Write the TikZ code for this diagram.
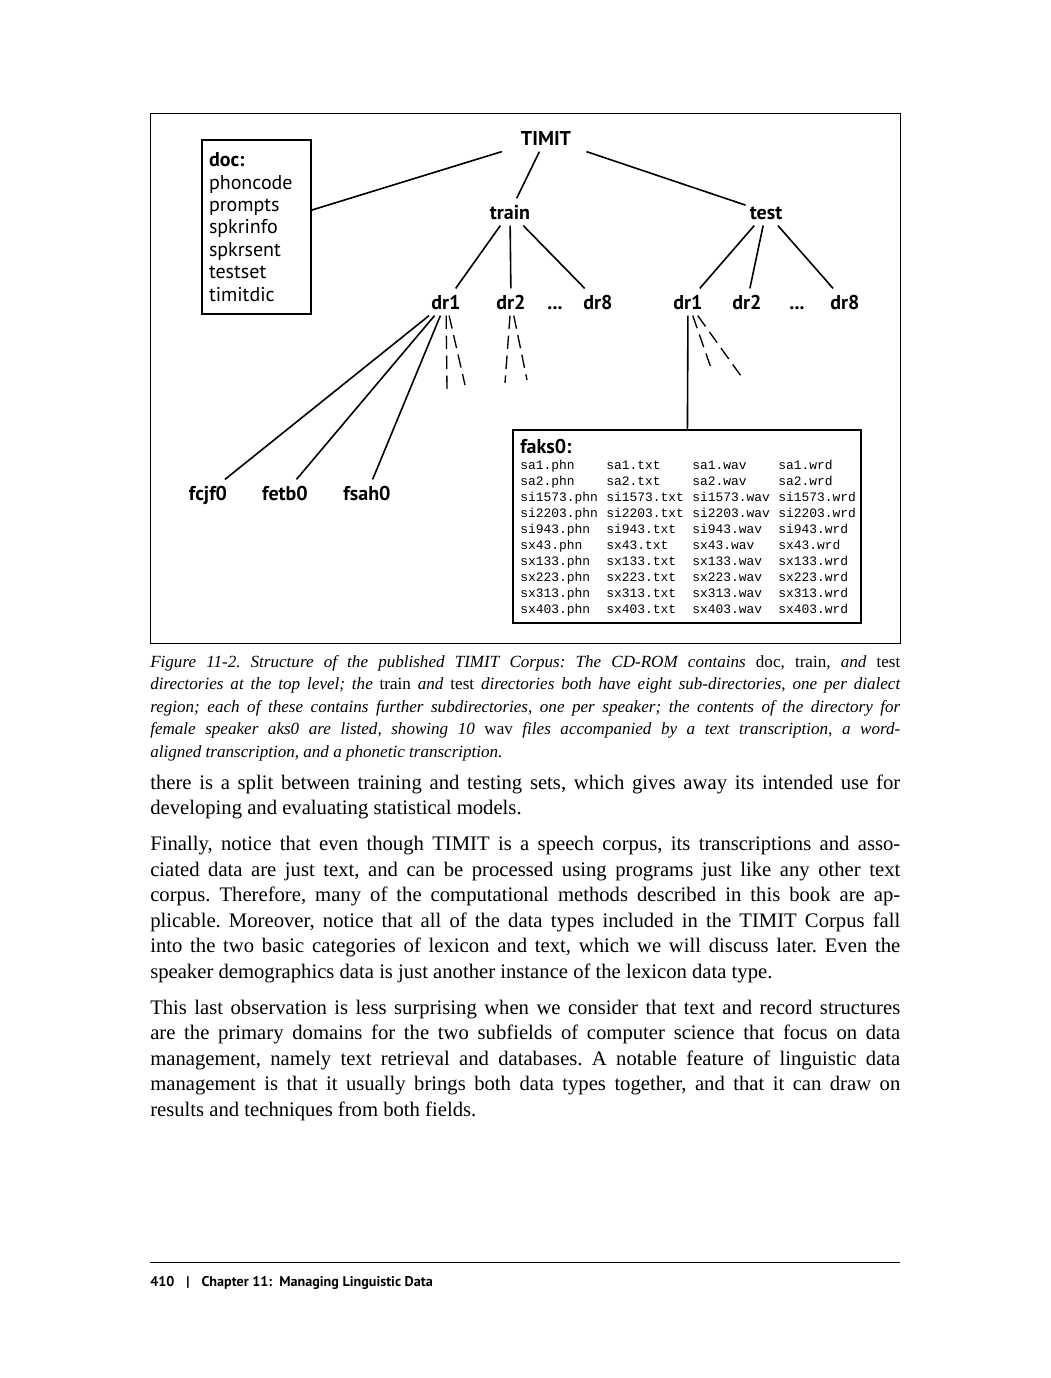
\documentclass[tikz,border=0pt]{standalone}
\usepackage{fontspec}
\setmainfont{Liberation Serif}
\setsansfont{PT Sans}
\setmonofont{Liberation Mono}
\frenchspacing

% one line of the text block, stretched to the full measure
\newcommand\fullline[1]{\hbox to 562.5pt{#1}}

\tikzset{
  dirnode/.style={font=\sffamily\bfseries\fontsize{15}{18}\selectfont,
    text height=11pt, text depth=0pt, minimum height=20pt, inner xsep=3pt},
  dirbox/.style={draw, line width=1.2pt},
  branch/.style={line width=1.2pt},
  subbranch/.style={line width=1pt, dash pattern=on 10pt off 5pt},
  filename/.style={font=\ttfamily\fontsize{9.7}{12}\selectfont, anchor=base west, inner sep=0pt},
  capline/.style={font=\itshape\fontsize{12.8}{15}\selectfont, anchor=base west, inner sep=0pt},
  bodyline/.style={font=\fontsize{15.5}{18}\selectfont, anchor=base west, inner sep=0pt},
}

\begin{document}
\begin{tikzpicture}[x=0.75pt, y=-0.75pt]
  \useasboundingbox (0,0) rectangle (1050,1378);
  \draw[line width=0.75pt] (150,113) rectangle (900,643);

  % directory tree
  \node[dirnode, minimum width=67.5pt] (timit) at (546,138) {TIMIT};
  \node[dirbox, font=\sffamily\fontsize{15}{16.8}\selectfont, align=left,
    text width=71.25pt, inner xsep=5.25pt, minimum height=130.5pt] (doc) at (256.5,227)
    {\textbf{doc:}\\phoncode\\prompts\\spkrinfo\\spkrsent\\testset\\timitdic};
  \node[dirnode] (train) at (510,212) {train};
  \node[dirnode] (test) at (766,212) {test};

  \node[dirnode] (trdr1) at (446,302) {dr1};
  \node[dirnode] (trdr2) at (511,302) {dr2};
  \node[dirnode] (trdots) at (555,302) {...};
  \node[dirnode] (trdr8) at (598,302) {dr8};
  \node[dirnode] (tedr1) at (688,302) {dr1};
  \node[dirnode] (tedr2) at (747,302) {dr2};
  \node[dirnode] (tedots) at (797,302) {...};
  \node[dirnode] (tedr8) at (845,302) {dr8};

  \node[dirnode] (fcjf) at (208,493) {fcjf0};
  \node[dirnode] (fetb) at (285,493) {fetb0};
  \node[dirnode] (fsah) at (367,493) {fsah0};

  \node[dirbox, minimum width=261pt, minimum height=144.75pt, inner sep=0pt] (faks) at (687,526.5) {};
  \node[font=\sffamily\bfseries\fontsize{15}{18}\selectfont, anchor=base west, inner sep=0pt]
    (fakstitle) at (520,453) {faks0:};
  \foreach \stem [count=\r from 0] in {sa1,sa2,si1573,si2203,si943,sx43,sx133,sx223,sx313,sx403}
    \foreach \ext [count=\c from 0] in {phn,txt,wav,wrd}
      \node[filename] (f-\stem-\ext) at ({520+86*\c},{469+16.1*\r}) {\stem.\ext};

  \draw[branch] (timit) -- (doc);
  \draw[branch] (timit) -- (train);
  \draw[branch] (timit) -- (test);
  \foreach \d in {trdr1,trdr2,trdr8}
    \draw[branch] (train) -- (\d);
  \foreach \d in {tedr1,tedr2,tedr8}
    \draw[branch] (test) -- (\d);
  \foreach \s in {fcjf,fetb,fsah}
    \draw[branch] (trdr1) -- (\s);
  \draw[branch] (tedr1) -- (faks);

  % further speakers, not shown
  \coordinate (trdr1a) at (447,390);
  \coordinate (trdr1b) at (465,385);
  \coordinate (trdr2a) at (505,383);
  \coordinate (trdr2b) at (527,380);
  \coordinate (tedr1a) at (711,368);
  \coordinate (tedr1b) at (741,376);
  \foreach \e in {trdr1a,trdr1b}
    \draw[subbranch] (trdr1) -- (\e);
  \foreach \e in {trdr2a,trdr2b}
    \draw[subbranch] (trdr2) -- (\e);
  \foreach \e in {tedr1a,tedr1b}
    \draw[subbranch] (tedr1) -- (\e);

  % caption
  \node[capline] (cap1) at (150,667) {\fullline{Figure 11-2. Structure of the published TIMIT Corpus: The CD-ROM contains \textup{doc, train,} and \textup{test}}};
  \node[capline] (cap2) at (150,689.5) {\fullline{directories at the top level; the \textup{train} and \textup{test} directories both have eight sub-directories, one per dialect}};
  \node[capline] (cap3) at (150,712) {\fullline{region; each of these contains further subdirectories, one per speaker; the contents of the directory for}};
  \node[capline] (cap4) at (150,734.5) {\fullline{female speaker aks0 are listed, showing 10 \textup{wav} files accompanied by a text transcription, a word-}};
  \node[capline] (cap5) at (150,757) {aligned transcription, and a phonetic transcription.};

  % running text
  \node[bodyline] (p1a) at (150,789) {\fullline{there is a split between training and testing sets, which gives away its intended use for}};
  \node[bodyline] (p1b) at (150,814) {developing and evaluating statistical models.};
  \node[bodyline] (p2a) at (150,850) {\fullline{Finally, notice that even though TIMIT is a speech corpus, its transcriptions and asso-}};
  \node[bodyline] (p2b) at (150,876) {\fullline{ciated data are just text, and can be processed using programs just like any other text}};
  \node[bodyline] (p2c) at (150,901) {\fullline{corpus. Therefore, many of the computational methods described in this book are ap-}};
  \node[bodyline] (p2d) at (150,927) {\fullline{plicable. Moreover, notice that all of the data types included in the TIMIT Corpus fall}};
  \node[bodyline] (p2e) at (150,952) {\fullline{into the two basic categories of lexicon and text, which we will discuss later. Even the}};
  \node[bodyline] (p2f) at (150,978) {speaker demographics data is just another instance of the lexicon data type.};
  \node[bodyline] (p3a) at (150,1014) {\fullline{This last observation is less surprising when we consider that text and record structures}};
  \node[bodyline] (p3b) at (150,1039) {\fullline{are the primary domains for the two subfields of computer science that focus on data}};
  \node[bodyline] (p3c) at (150,1065) {\fullline{management, namely text retrieval and databases. A notable feature of linguistic data}};
  \node[bodyline] (p3d) at (150,1090) {\fullline{management is that it usually brings both data types together, and that it can draw on}};
  \node[bodyline] (p3e) at (150,1116) {results and techniques from both fields.};

  % running foot
  \draw[line width=0.6pt] (150,1262) -- (900,1262);
  \node[font=\sffamily\bfseries\fontsize{10.6}{12}\selectfont, anchor=base west, inner sep=0pt]
    (foot) at (150,1286) {410\hspace{9pt}|\hspace{9pt}Chapter 11:\ \ Managing Linguistic Data};
\end{tikzpicture}
\end{document}
